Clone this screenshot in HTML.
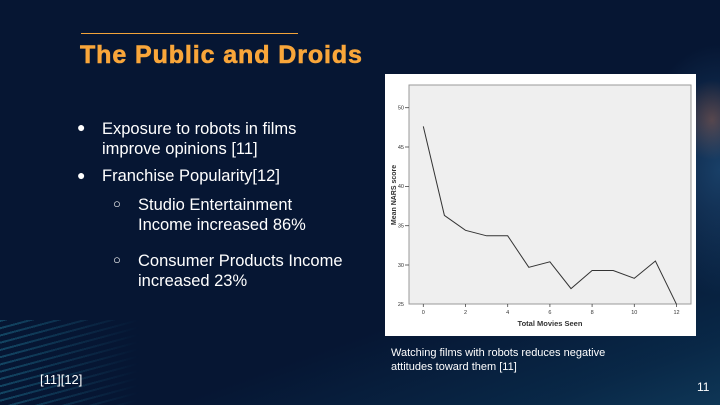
<!DOCTYPE html>
<html><head><style>
body{margin:0;width:720px;height:405px;overflow:hidden;background:#061633;font-family:"Liberation Sans",sans-serif;position:relative}
.t{position:absolute;color:#fff;font-size:16.5px;white-space:nowrap}
</style></head><body>
<div style="position:absolute;left:0;top:0;width:720px;height:405px;background:radial-gradient(ellipse 120px 180px at 720px 170px,rgba(60,140,200,0.35),transparent 70%),radial-gradient(ellipse 40px 50px at 712px 120px,rgba(200,90,40,0.45),transparent 80%),linear-gradient(160deg,transparent 70%,rgba(20,110,150,0.2) 90%,rgba(40,150,190,0.25))"></div>
<div style="position:absolute;left:0;top:320px;width:140px;height:85px;background:repeating-linear-gradient(165deg,rgba(50,180,210,0.3) 0 2px,transparent 2px 7px);-webkit-mask:linear-gradient(90deg,#000,transparent)"></div>
<div style="position:absolute;left:81px;top:33px;width:217px;height:1px;background:#f2a33a"></div>
<div style="position:absolute;left:80px;top:41px;color:#f9a63a;font-weight:bold;font-size:25px;letter-spacing:0.9px;-webkit-text-stroke:0.6px #f9a63a">The Public and Droids</div>
<div class="t" style="left:77px;top:119px;font-size:14px">●</div>
<div class="t" style="left:102px;top:120px">Exposure to robots in films<br><span style="line-height:20px">improve opinions [11]</span></div>
<div class="t" style="left:77px;top:167px;font-size:14px">●</div>
<div class="t" style="left:102px;top:167px">Franchise Popularity[12]</div>
<div class="t" style="left:113px;top:196px;font-size:13px">○</div>
<div class="t" style="left:138px;top:195px;line-height:20px">Studio Entertainment<br>Income increased 86%</div>
<div class="t" style="left:113px;top:252px;font-size:13px">○</div>
<div class="t" style="left:138px;top:251px;line-height:20px">Consumer Products Income<br>increased 23%</div>
<div class="t" style="left:40px;top:372px;font-size:13px">[11][12]</div>
<div class="t" style="left:391px;top:346px;font-size:11px;line-height:14px">Watching films with robots reduces negative<br>attitudes toward them [11]</div>
<div class="t" style="left:697px;top:380px;font-size:12px">11</div>
<svg style="position:absolute;left:385px;top:74px" width="311" height="262" viewBox="385 74 311 262">
<rect x="385" y="74" width="311" height="262" fill="#fff"/>
<rect x="409" y="85" width="282" height="219" fill="#efefef" stroke="#999" stroke-width="1"/>
<g stroke="#444" stroke-width="0.8">
<line x1="405" y1="107.7" x2="409" y2="107.7"/><line x1="405" y1="147" x2="409" y2="147"/><line x1="405" y1="186.4" x2="409" y2="186.4"/><line x1="405" y1="225.7" x2="409" y2="225.7"/><line x1="405" y1="265" x2="409" y2="265"/>
<line x1="423.3" y1="304" x2="423.3" y2="307"/><line x1="465.5" y1="304" x2="465.5" y2="307"/><line x1="507.7" y1="304" x2="507.7" y2="307"/><line x1="549.9" y1="304" x2="549.9" y2="307"/><line x1="592.1" y1="304" x2="592.1" y2="307"/><line x1="634.3" y1="304" x2="634.3" y2="307"/><line x1="676.5" y1="304" x2="676.5" y2="307"/>
</g>
<g font-size="5.5" fill="#333" text-anchor="end">
<text x="404" y="109.5">50</text><text x="404" y="149">45</text><text x="404" y="188.2">40</text><text x="404" y="227.5">35</text><text x="404" y="266.8">30</text><text x="404" y="306">25</text>
</g>
<g font-size="5.5" fill="#333" text-anchor="middle">
<text x="423.3" y="314">0</text><text x="465.5" y="314">2</text><text x="507.7" y="314">4</text><text x="549.9" y="314">6</text><text x="592.1" y="314">8</text><text x="634.3" y="314">10</text><text x="676.5" y="314">12</text>
</g>
<text x="550" y="326" font-size="7.5" font-weight="bold" fill="#333" text-anchor="middle">Total Movies Seen</text>
<text transform="translate(396,195) rotate(-90)" font-size="7" font-weight="bold" fill="#333" text-anchor="middle">Mean NARS score</text>
<polyline fill="none" stroke="#333" stroke-width="1" points="423.3,126.4 444.4,215.4 465.5,230.3 486.6,235.8 507.7,235.8 528.8,267.3 549.9,261.8 571,288.6 592.1,270.5 613.2,270.5 634.3,278.3 655.4,261 676.5,304.3"/>
</svg>
</body></html>
